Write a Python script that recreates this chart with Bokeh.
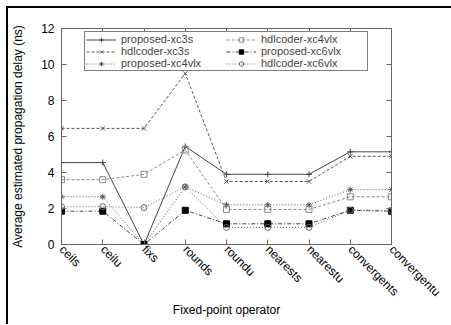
import math
from bokeh.plotting import figure
from bokeh.models import (Range1d, FixedTicker, LinearAxis, Legend, LegendItem)
from bokeh.embed import file_html
from bokeh.resources import INLINE

categories = ["ceils", "ceilu", "fixs", "rounds", "roundu", "nearests",
              "nearestu", "convergents", "convergentu"]
proposed_xc3s = [4.55, 4.55, 0.0, 5.45, 3.9, 3.9, 3.9, 5.15, 5.15]
hdlcoder_xc3s = [6.45, 6.45, 6.45, 9.5, 3.5, 3.5, 3.5, 4.9, 4.9]
proposed_xc4vlx = [2.65, 2.65, 0.0, 3.2, 2.2, 2.2, 2.2, 3.05, 3.05]
hdlcoder_xc4vlx = [3.6, 3.6, 3.9, 5.25, 1.95, 1.95, 1.95, 2.65, 2.65]
proposed_xc6vlx = [1.85, 1.85, 0.0, 1.9, 1.15, 1.15, 1.15, 1.9, 1.85]
hdlcoder_xc6vlx = [2.1, 2.1, 2.05, 3.2, 0.95, 0.95, 0.95, 1.9, 1.9]
y_ticks = [0, 2, 4, 6, 8, 10, 12]

x = list(range(len(categories)))
FONT = "Liberation Sans"
AXC = "#666666"

p = figure(frame_width=330, frame_height=216, output_backend="svg", toolbar_location=None,
           x_range=Range1d(0, len(categories) - 1), y_range=Range1d(0, 12),
           min_border_left=52, min_border_right=60, min_border_top=20,
           min_border_bottom=80)
p.styles = {"border-left": "2px solid black", "border-top": "2px solid black",
            "margin-left": "6px", "margin-top": "6px"}
p.grid.visible = False
p.outline_line_color = AXC

p.xaxis.ticker = FixedTicker(ticks=x)
p.yaxis.ticker = FixedTicker(ticks=y_ticks)
p.xaxis.major_label_overrides = {i: c for i, c in enumerate(categories)}
p.xaxis.major_label_orientation = -math.pi / 4
p.xaxis.axis_label = "Fixed-point operator"
p.yaxis.axis_label = "Average estimated propagation delay (ns)"
p.xaxis.axis_label_standoff = -4
p.yaxis.axis_label_standoff = 13

for ax in [p.xaxis[0], p.yaxis[0]]:
    ax.axis_line_color = AXC
    ax.major_tick_line_color = AXC
    ax.minor_tick_line_color = None
    ax.major_tick_in = 5
    ax.major_tick_out = 0
    ax.major_label_text_font = FONT
    ax.major_label_text_font_size = "12px"
    ax.major_label_text_color = "black"
    ax.axis_label_text_font = FONT
    ax.axis_label_text_font_size = "12px"
    ax.axis_label_text_font_style = "normal"
    ax.axis_label_text_color = "black"
p.xaxis.major_label_standoff = 3
p.yaxis.major_label_standoff = 7

top = LinearAxis(ticker=FixedTicker(ticks=x),
                 major_label_overrides={i: "" for i in x},
                 axis_line_color=AXC, major_tick_line_color=AXC,
                 minor_tick_line_color=None, major_tick_in=5, major_tick_out=0)
right = LinearAxis(ticker=FixedTicker(ticks=y_ticks),
                   major_label_overrides={t: "" for t in y_ticks},
                   axis_line_color=AXC, major_tick_line_color=AXC,
                   minor_tick_line_color=None, major_tick_in=5, major_tick_out=0)
p.add_layout(top, "above")
p.add_layout(right, "right")

series = [
    ("proposed-xc3s", proposed_xc3s, "#444444", "solid", "cross", None),
    ("hdlcoder-xc3s", hdlcoder_xc3s, "#555555", "3 2", "x", None),
    ("proposed-xc4vlx", proposed_xc4vlx, "#555555", "1 2", "asterisk", None),
    ("hdlcoder-xc4vlx", hdlcoder_xc4vlx, "#888888", "3 2", "square", None),
    ("proposed-xc6vlx", proposed_xc6vlx, "#444444", "4 2 1 2", "square", "black"),
    ("hdlcoder-xc6vlx", hdlcoder_xc6vlx, "#666666", "1 2", "circle", None),
]

items = []
for name, ys, col, dash, mk, fill in series:
    r1 = p.line(x, ys, line_color=col, line_dash=dash, line_width=1)
    r2 = p.scatter(x, ys, marker=mk, size=6, line_color=col if fill is None else "black",
                   fill_color=fill if fill else None, line_width=1)
    items.append(LegendItem(label=name, renderers=[r1, r2]))

legend = Legend(items=items, location="top_center", orientation="vertical", nrows=3,
                label_text_font=FONT, label_text_font_size="11px",
                label_text_line_height=0.95,
                label_height=11, glyph_height=11, glyph_width=30, spacing=0,
                padding=1, margin=3, label_standoff=5, label_width=105,
                border_line_color="black", border_line_width=1,
                background_fill_color="white", background_fill_alpha=1.0)
p.add_layout(legend, "center")

open("out.html", "w").write(file_html(p, INLINE))
